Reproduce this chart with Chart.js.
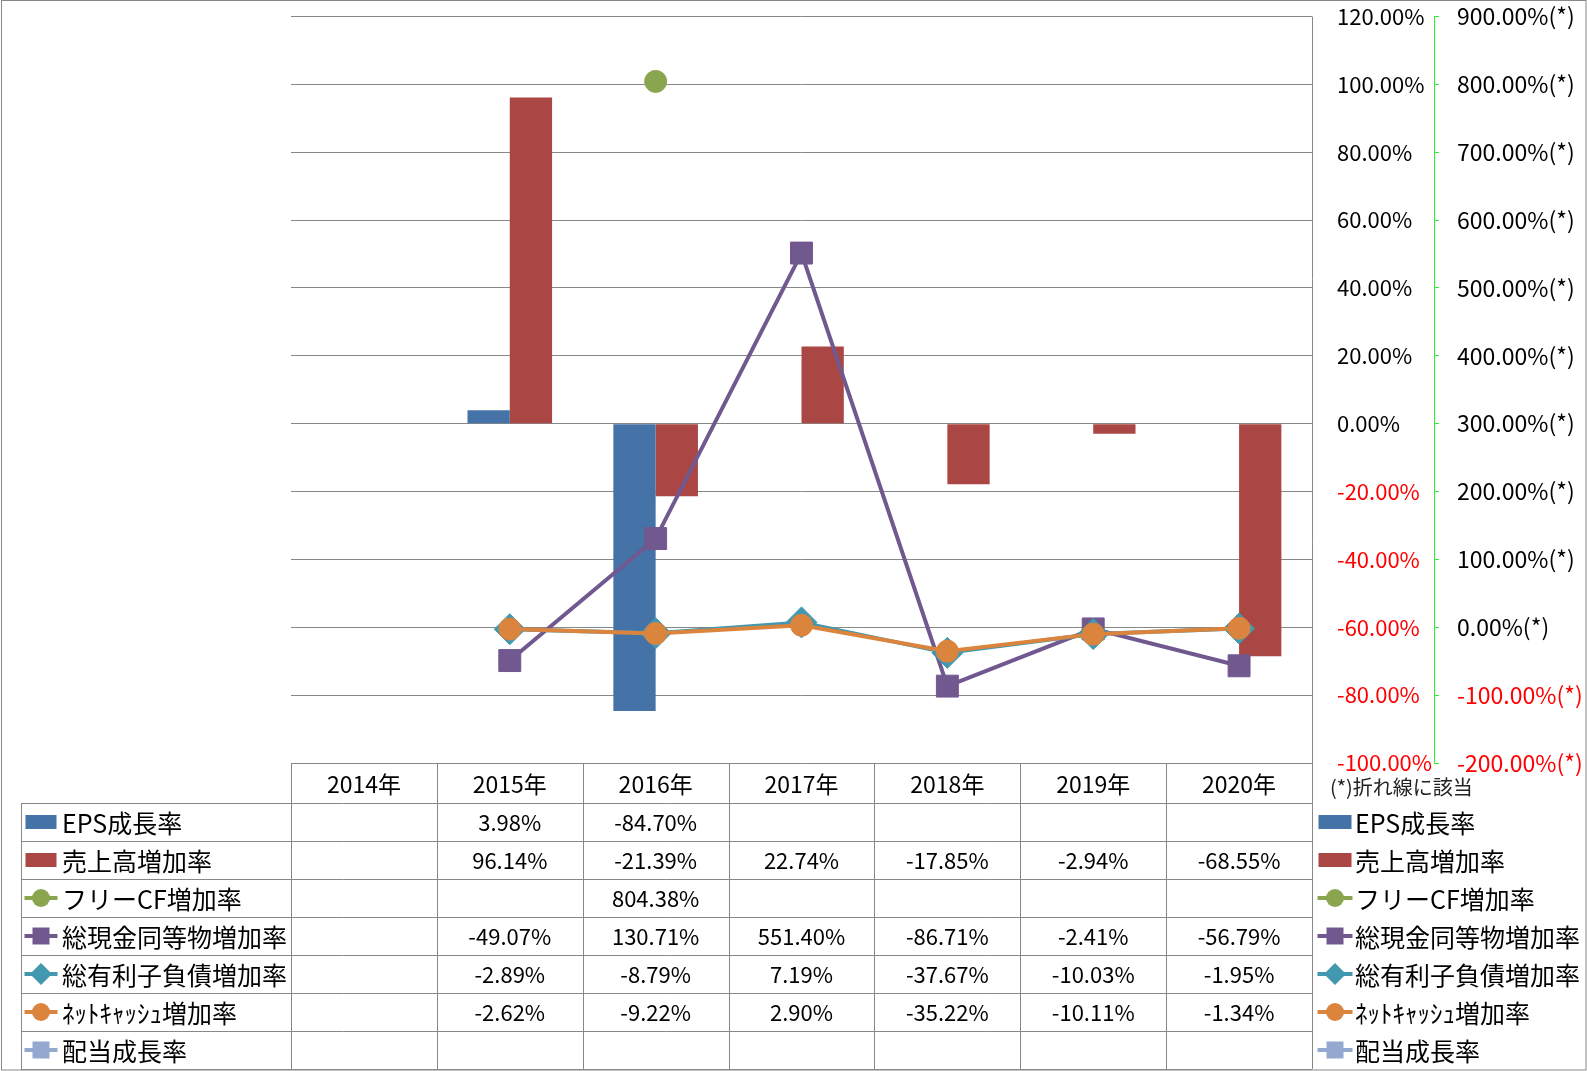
<!DOCTYPE html>
<html>
<head>
<meta charset="utf-8">
<script src="https://cdn.jsdelivr.net/npm/chart.js@4"></script>
<style>
html,body{margin:0;padding:0;background:#fff;}
canvas{display:block;}
</style>
</head>
<body>
<canvas id="c" width="1587" height="1071"></canvas>
<script>
// ---- data ----
const categories = ['2014年','2015年','2016年','2017年','2018年','2019年','2020年'];
const epsGrowth   = [null, 3.98, -84.70, null, null, null, null];
const salesGrowth = [null, 96.14, -21.39, 22.74, -17.85, -2.94, -68.55];
const fcfGrowth   = [null, null, 804.38, null, null, null, null];
const cashGrowth  = [null, -49.07, 130.71, 551.40, -86.71, -2.41, -56.79];
const debtGrowth  = [null, -2.89, -8.79, 7.19, -37.67, -10.03, -1.95];
const netGrowth   = [null, -2.62, -9.22, 2.90, -35.22, -10.11, -1.34];
const divGrowth   = [null, null, null, null, null, null, null];
const seriesNames = ['EPS成長率','売上高増加率','フリーCF増加率','総現金同等物増加率','総有利子負債増加率','ﾈｯﾄｷｬｯｼｭ増加率','配当成長率'];
const primaryTicks = {min: -100, max: 120, step: 20};
const secondaryTicks = {min: -200, max: 900, step: 100};
const footnote = '(*)折れ線に該当';

const FONT = "'Noto Sans CJK JP', 'Noto Sans', sans-serif";
Chart.defaults.font.family = FONT;

const colors = ['#4572A7','#AA4643','#89A54E','#71588F','#4198AF','#DB843D','#93A9CF'];

function lineDs(i, data, style, radius, order) {
  return {
    type: 'line', label: seriesNames[i], data: data, yAxisID: 'y2',
    borderColor: colors[i], backgroundColor: colors[i], borderWidth: 4,
    pointStyle: style, pointRadius: radius, pointHoverRadius: radius,
    pointBackgroundColor: colors[i], pointBorderColor: colors[i], pointBorderWidth: 1,
    order: order, tension: 0, spanGaps: false
  };
}

const datasets = [
  {type:'bar', label: seriesNames[0], data: epsGrowth, backgroundColor: colors[0], yAxisID:'y', order: 10,
   categoryPercentage: 0.58, barPercentage: 1.0},
  {type:'bar', label: seriesNames[1], data: salesGrowth, backgroundColor: colors[1], yAxisID:'y', order: 10,
   categoryPercentage: 0.58, barPercentage: 1.0},
  lineDs(2, fcfGrowth, 'circle', 11, 5),
  lineDs(3, cashGrowth, 'rect', 15.5, 4),
  lineDs(4, debtGrowth, 'rectRot', 15.5, 3),
  lineDs(5, netGrowth, 'circle', 11, 2),
  lineDs(6, divGrowth, 'rect', 15.5, 1)
];

const legendKinds = ['bar','bar','circle','rect','rectRot','circle','rect'];

function drawLegendMarker(ctx, i, cx, cy, lineW) {
  const col = colors[i];
  ctx.save();
  if (legendKinds[i] === 'bar') {
    ctx.fillStyle = col;
    ctx.fillRect(cx - lineW/2 + 1, cy - 7, lineW - 2, 14);
  } else {
    ctx.strokeStyle = col; ctx.lineWidth = 4;
    ctx.beginPath(); ctx.moveTo(cx - lineW/2, cy); ctx.lineTo(cx + lineW/2, cy); ctx.stroke();
    ctx.fillStyle = col;
    ctx.beginPath();
    if (legendKinds[i] === 'circle') { ctx.arc(cx, cy, 9, 0, Math.PI*2); }
    else if (legendKinds[i] === 'rect') { ctx.rect(cx - 8.5, cy - 8.5, 17, 17); }
    else { ctx.moveTo(cx - 11, cy); ctx.lineTo(cx, cy - 11); ctx.lineTo(cx + 11, cy); ctx.lineTo(cx, cy + 11); ctx.closePath(); }
    ctx.fill();
  }
  ctx.restore();
}

const tablePlugin = {
  id: 'dataTable',
  afterDraw(chart) {
    const ctx = chart.ctx;
    const area = chart.chartArea;
    const xs = chart.scales.x;
    const n = categories.length;
    const colW = (area.right - area.left) / n;
    const headerTop = area.bottom;
    const headerH = 40, rowH = 38;
    const rowsTop = headerTop + headerH;
    const nRows = datasets.length;
    const tableBottom = rowsTop + rowH * nRows;
    const legendLeft = 21;
    const grid = '#888888';

    ctx.save();
    ctx.strokeStyle = grid; ctx.lineWidth = 1;
    // outer frame
    ctx.strokeRect(1.5, 0.5, chart.width - 2.5, chart.height - 1.5);
    ctx.beginPath();
    ctx.moveTo(area.left, Math.round(headerTop) + 0.5); ctx.lineTo(area.right, Math.round(headerTop) + 0.5);
    for (let r = 0; r <= nRows; r++) {
      const y = Math.round(rowsTop + r * rowH) + 0.5;
      ctx.moveTo(legendLeft, y); ctx.lineTo(area.right, y);
    }
    for (let c = 0; c <= n; c++) {
      const x = Math.round(area.left + c * colW) + 0.5;
      ctx.moveTo(x, c === n ? area.top : headerTop);
      ctx.lineTo(x, tableBottom);
    }
    ctx.moveTo(legendLeft + 0.5, rowsTop); ctx.lineTo(legendLeft + 0.5, tableBottom);
    ctx.stroke();

    // header text
    ctx.fillStyle = '#000';
    ctx.font = '23px ' + FONT;
    ctx.textAlign = 'center'; ctx.textBaseline = 'middle';
    categories.forEach((c, i) => {
      ctx.fillText(c, xs.getPixelForValue(i), headerTop + headerH/2 + 1);
    });
    // values
    ctx.font = '22px ' + FONT;
    datasets.forEach((ds, r) => {
      const cy = rowsTop + r * rowH + rowH/2 + 1;
      ds.data.forEach((v, i) => {
        if (v === null || v === undefined) return;
        ctx.fillText(v.toFixed(2) + '%', xs.getPixelForValue(i), cy);
      });
    });
    // legends
    ctx.font = '25px ' + FONT;
    ctx.textAlign = 'left';
    datasets.forEach((ds, r) => {
      const cy = rowsTop + r * rowH + rowH/2;
      drawLegendMarker(ctx, r, 41, cy, 33);
      ctx.fillStyle = '#000';
      ctx.fillText(seriesNames[r], 62, cy + 1);
      drawLegendMarker(ctx, r, 1335, cy, 35);
      ctx.fillStyle = '#000';
      ctx.fillText(seriesNames[r], 1355, cy + 1);
    });
    // footnote
    ctx.font = '20px ' + FONT;
    ctx.fillStyle = '#222';
    ctx.fillText(footnote, 1330, headerTop + 24);
    ctx.restore();
  }
};

const tickColor = (c) => (c.tick && c.tick.value < 0) ? '#FF0000' : '#000000';

new Chart(document.getElementById('c'), {
  type: 'bar',
  data: { labels: categories, datasets: datasets },
  options: {
    responsive: false,
    animation: false,
    devicePixelRatio: 1,
    layout: { padding: { left: 291, top: 15, right: 0, bottom: 308 } },
    plugins: { legend: { display: false }, tooltip: { enabled: false } },
    scales: {
      x: { display: false, offset: true, grid: { display: false } },
      y: {
        position: 'right', min: primaryTicks.min, max: primaryTicks.max,
        afterFit: (s) => { s.width = 122; s.paddingTop = 10; s.paddingBottom = 10; },
        border: { display: false },
        grid: { color: '#888888', lineWidth: 1, drawTicks: false },
        ticks: { stepSize: primaryTicks.step, padding: 25, crossAlign: 'near',
                 color: tickColor, font: { size: 22 },
                 callback: (v) => v.toFixed(2) + '%' }
      },
      y2: {
        position: 'right', min: secondaryTicks.min, max: secondaryTicks.max,
        afterFit: (s) => { s.width = 153; s.paddingTop = 10; s.paddingBottom = 10; },
        border: { display: true, color: '#33EE33', dash: [4, 3], width: 1 },
        grid: { drawOnChartArea: false, color: '#33EE33', tickLength: 7, tickBorderDash: [4, 3] },
        ticks: { stepSize: secondaryTicks.step, padding: 16, crossAlign: 'near',
                 color: tickColor, font: { size: 23 },
                 callback: (v) => v.toFixed(2) + '%(*)' }
      }
    }
  },
  plugins: [tablePlugin]
});
</script>
</body>
</html>
